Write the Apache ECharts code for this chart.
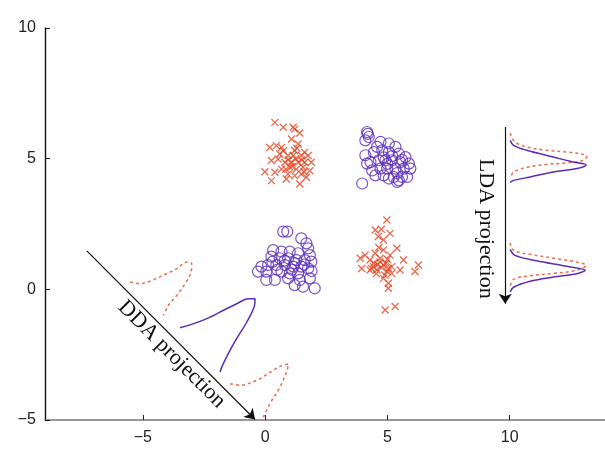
<!DOCTYPE html>
<html>
<head>
<meta charset="utf-8">
<script src="https://cdn.jsdelivr.net/npm/echarts@6/dist/echarts.min.js"></script>
<style>
html, body { margin: 0; padding: 0; background: #fff; }
#main { width: 605px; height: 450px; }
</style>
</head>
<body>
<div id="main"></div>
<script>
var xTicks = [-5, 0, 5, 10];
var yTicks = [-5, 0, 5, 10];

// class A (red crosses)
var redTop = [[0.40,6.39],[0.74,6.20],[1.15,6.20],[1.21,6.13],[1.42,5.98],[1.08,5.75],[0.19,5.43],[0.46,5.50],[0.67,5.43],[1.35,5.56],[1.21,5.31],[1.62,5.24],[1.76,5.12],[0.94,5.12],[0.53,4.99],[0.26,4.93],[0.81,4.86],[1.08,4.86],[1.35,4.86],[1.62,4.86],[1.89,4.86],[0.67,4.60],[1.01,4.67],[1.28,4.60],[1.55,4.67],[1.83,4.54],[-0.01,4.50],[0.40,4.48],[0.94,4.41],[1.21,4.35],[1.48,4.41],[0.26,4.16],[1.42,4.03],[0.87,4.22],[1.69,4.29],[0.60,5.18],[1.48,5.12],[1.15,5.12],[0.95,4.95],[1.25,5.0],[1.1,4.7],[0.75,5.3],[1.5,4.95],[1.3,5.4],[0.85,4.6],[1.6,4.5]];
var redLow = [[4.98,2.65],[4.50,2.27],[4.63,2.02],[5.11,2.14],[4.84,1.89],[5.39,1.57],[4.84,1.50],[4.09,1.31],[4.50,1.38],[5.11,1.31],[3.89,1.19],[4.29,1.12],[4.70,1.19],[5.66,1.12],[4.43,0.87],[4.84,0.93],[5.18,0.87],[5.52,0.74],[6.27,0.93],[3.95,0.80],[4.57,0.74],[4.98,0.68],[6.13,0.68],[4.29,0.74],[4.84,0.42],[5.04,0.23],[5.04,0.04],[4.91,-0.79],[5.32,-0.66],[5.18,0.61],[4.36,0.80],[4.45,1.0],[4.6,0.95],[4.75,0.85],[4.95,1.0],[5.05,0.8],[4.55,0.6],[4.7,1.05],[5.0,1.15],[4.9,0.55],[4.65,1.6],[4.75,2.3]];

// class B (purple circles)
var purpleTop = [[4.17,6.02],[4.24,5.83],[4.10,5.70],[4.72,5.64],[5.06,5.58],[5.33,5.45],[4.10,5.13],[4.45,5.25],[4.79,5.32],[5.06,5.25],[5.47,5.19],[5.74,5.06],[4.31,4.87],[4.65,4.94],[4.92,4.94],[5.19,4.94],[5.53,4.87],[5.88,4.81],[4.38,4.55],[4.72,4.62],[4.99,4.62],[5.33,4.62],[5.67,4.62],[5.94,4.62],[4.51,4.36],[4.85,4.36],[5.26,4.30],[5.60,4.30],[5.06,4.24],[5.47,4.17],[5.81,4.30],[3.97,4.05],[5.40,4.11],[4.17,4.81],[4.58,5.45],[4.2,5.95],[5.2,5.1],[4.85,5.05],[5.6,4.95],[5.0,4.8],[5.4,4.45]];
var purpleLow = [[0.74,2.21],[0.91,2.21],[1.48,1.95],[1.69,1.76],[1.76,1.57],[0.33,1.50],[0.67,1.44],[1.01,1.44],[1.35,1.38],[1.83,1.31],[0.26,1.25],[0.60,1.19],[0.94,1.19],[1.28,1.12],[1.62,1.12],[1.89,1.06],[-0.15,0.87],[0.12,0.93],[0.46,0.93],[0.81,0.93],[1.15,0.87],[1.48,0.87],[1.76,0.80],[-0.29,0.68],[0.05,0.68],[0.67,0.68],[1.01,0.61],[1.35,0.61],[0.40,0.36],[0.94,0.42],[1.42,0.36],[1.83,0.42],[1.55,0.10],[2.03,0.04],[1.21,0.16],[0.05,0.36],[0.3,1.05],[0.8,1.1],[1.2,1.0],[1.6,0.95],[0.5,0.75],[1.1,0.75],[1.9,0.7]];

// projection axes
var ddaAxis = [[-7.29, 1.47], [-0.41, -4.98]];
var ldaAxis = [[9.82, 6.21], [9.82, -0.55]];

// density curves
var ddaRedUpper = [[-5.52,0.28],[-5.11,0.22],[-4.63,0.34],[-4.16,0.54],[-3.61,0.79],[-3.20,1.04],[-3.00,0.98],[-3.03,0.65],[-3.27,0.22],[-3.61,-0.23],[-3.95,-0.61],[-4.16,-1.00]];
var ddaPurple = [[-3.48,-1.47],[-3.07,-1.36],[-2.38,-1.12],[-1.70,-0.80],[-1.16,-0.55],[-0.68,-0.36],[-0.41,-0.36],[-0.45,-0.68],[-0.75,-1.26],[-1.16,-1.88],[-1.50,-2.45],[-1.76,-2.95],[-1.84,-3.16]];
var ddaRedLower = [[-1.43,-3.61],[-1.02,-3.67],[-0.34,-3.48],[0.20,-3.18],[0.61,-2.95],[0.95,-2.85],[0.90,-3.10],[0.61,-3.74],[0.20,-4.37],[-0.07,-4.89]];
var ldaRedUpper = [[10.02,5.98],[10.22,5.64],[10.70,5.45],[11.52,5.32],[12.34,5.25],[12.88,5.19],[13.16,5.09],[13.02,4.94],[12.34,4.84],[11.52,4.78],[10.70,4.67],[10.16,4.49],[10.06,4.32]];
var ldaPurpleUpper = [[10.02,5.70],[10.16,5.51],[10.70,5.32],[11.79,5.06],[12.61,4.87],[13.13,4.76],[12.75,4.62],[11.79,4.49],[10.84,4.30],[10.16,4.17],[10.02,4.09]];
var ldaRedLower = [[10.02,1.78],[10.16,1.49],[10.84,1.34],[11.93,1.17],[12.75,1.04],[13.13,0.92],[12.75,0.73],[11.79,0.61],[10.84,0.52],[10.16,0.38],[10.02,0.09]];
var ldaPurpleLower = [[10.02,1.53],[10.22,1.30],[11.11,1.09],[12.20,0.90],[13.09,0.73],[12.75,0.60],[11.79,0.47],[10.84,0.31],[10.16,0.08],[10.02,-0.10]];

var RED = '#e5421f';
var RED_DASH = '#ee6b4b';
var PURPLE = '#5b2cb6';

function minusSign(v) {
	return String(v).replace('-', '\u2212');
}

function crosses(data) {
	return {
		type : 'scatter',
		data : data,
		symbol : 'path://M0,0L10,10M10,0L0,10',
		symbolSize : 7,
		itemStyle : { color : 'rgba(0,0,0,0)', borderColor : RED, borderWidth : 1.3 }
	};
}

function rings(data) {
	return {
		type : 'scatter',
		data : data,
		symbol : 'circle',
		symbolSize : 11,
		itemStyle : { color : 'rgba(0,0,0,0)', borderColor : PURPLE, borderWidth : 1.2 }
	};
}

function curve(data, color, dashed) {
	return {
		type : 'line',
		data : data,
		smooth : 0.35,
		showSymbol : false,
		lineStyle : { color : color, width : 1.5, type : dashed ? [3, 3] : 'solid' }
	};
}

function arrowAxis(pts, text, dist) {
	return {
		type : 'line',
		data : [],
		markLine : {
			silent : true,
			animation : false,
			symbol : ['none', 'arrow'],
			symbolSize : 10,
			lineStyle : { color : '#111', width : 1.2, type : 'solid' },
			label : {
				show : true,
				position : 'insideEndBottom',
				distance : dist,
				formatter : text,
				fontFamily : 'Liberation Serif',
				fontSize : 22,
				color : '#111'
			},
			data : [[{ coord : pts[0] }, { coord : pts[1] }]]
		}
	};
}

var chart = echarts.init(document.getElementById('main'));
chart.setOption({
	animation : false,
	grid : { left : 45, right : 0, top : 28, bottom : 30 },
	xAxis : {
		type : 'value',
		min : -9,
		max : 13.9,
		splitLine : { show : false },
		axisLine : { onZero : false, lineStyle : { color : '#777', width : 1.6 } },
		axisTick : { inside : true, length : 5, customValues : xTicks, lineStyle : { color : '#222' } },
		axisLabel : {
			customValues : xTicks,
			formatter : minusSign,
			margin : 10,
			color : '#222',
			fontFamily : 'Liberation Sans',
			fontSize : 16
		}
	},
	yAxis : {
		type : 'value',
		min : -5,
		max : 10,
		interval : 5,
		splitLine : { show : false },
		axisLine : { show : true, onZero : false, lineStyle : { color : '#111', width : 1.4 } },
		axisTick : { inside : true, length : 5, customValues : yTicks },
		axisLabel : {
			customValues : yTicks,
			formatter : minusSign,
			margin : 9,
			color : '#222',
			fontFamily : 'Liberation Sans',
			fontSize : 16
		}
	},
	series : [
		curve(ddaRedUpper, RED_DASH, true),
		curve(ddaPurple, PURPLE, false),
		curve(ddaRedLower, RED_DASH, true),
		curve(ldaRedUpper, RED_DASH, true),
		curve(ldaPurpleUpper, PURPLE, false),
		curve(ldaRedLower, RED_DASH, true),
		curve(ldaPurpleLower, PURPLE, false),
		arrowAxis(ddaAxis, 'DDA projection', [34, 2]),
		arrowAxis(ldaAxis, 'LDA projection', [5, 8]),
		crosses(redTop),
		crosses(redLow),
		rings(purpleTop),
		rings(purpleLow)
	]
});
</script>
</body>
</html>
